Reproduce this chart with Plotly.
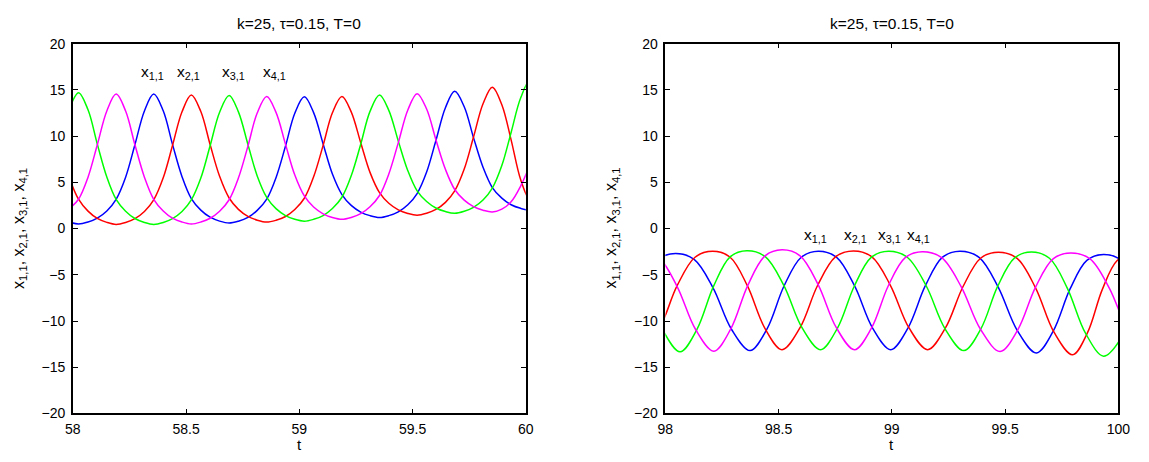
import plotly.graph_objects as go

# ---------------- data: left panel (t = 58 .. 60) ----------------
t_left = [57.942, 57.983, 58.025, 58.067, 58.108, 58.150, 58.191, 58.233, 58.274, 58.316,
          58.357, 58.399, 58.440, 58.482, 58.523, 58.565, 58.606, 58.648, 58.690, 58.731,
          58.773, 58.814, 58.856, 58.897, 58.939, 58.980, 59.022, 59.063, 59.105, 59.146,
          59.188, 59.229, 59.271, 59.312, 59.354, 59.395, 59.437, 59.479, 59.520, 59.562,
          59.603, 59.645, 59.686, 59.728, 59.769, 59.811, 59.852, 59.894, 59.935, 59.977,
          60.018, 60.060]

x11_left = [1.14, 0.71, 0.50, 0.71, 1.13, 1.91, 3.17, 5.56, 9.07, 12.72,
            14.55, 12.74, 9.11, 5.62, 3.25, 2.00, 1.23, 0.81, 0.60, 0.80,
            1.21, 1.97, 3.19, 5.51, 8.93, 12.48, 14.25, 12.55, 9.16, 5.90,
            3.68, 2.51, 1.79, 1.40, 1.20, 1.40, 1.81, 2.57, 3.79, 6.11,
            9.53, 13.08, 14.85, 13.18, 9.84, 6.63, 4.44, 3.29, 2.58, 2.19,
            2.00, 2.20]
x21_left = [9.20, 5.62, 3.18, 1.89, 1.10, 0.67, 0.45, 0.66, 1.08, 1.85,
            3.11, 5.49, 8.99, 12.63, 14.45, 12.66, 9.09, 5.65, 3.31, 2.08,
            1.32, 0.91, 0.70, 0.90, 1.31, 2.06, 3.28, 5.60, 9.00, 12.53,
            14.30, 12.63, 9.29, 6.08, 3.89, 2.74, 2.03, 1.64, 1.45, 1.66,
            2.07, 2.84, 4.08, 6.44, 9.90, 13.50, 15.30, 13.40, 9.60, 5.30,
            3.00, 2.30]
x31_left = [9.14, 12.85, 14.70, 12.85, 9.14, 5.58, 3.16, 1.88, 1.09, 0.66,
            0.45, 0.66, 1.08, 1.85, 3.10, 5.47, 8.96, 12.59, 14.40, 12.63,
            9.10, 5.70, 3.38, 2.16, 1.41, 1.00, 0.80, 1.00, 1.41, 2.17,
            3.39, 5.71, 9.13, 12.68, 14.45, 12.79, 9.46, 6.26, 4.08, 2.93,
            2.23, 1.84, 1.65, 1.87, 2.30, 3.09, 4.38, 6.82, 10.40, 14.13,
            16.00, 14.15]
x41_left = [1.13, 2.10, 3.17, 5.56, 9.07, 12.72, 14.55, 12.72, 9.07, 5.56,
            3.17, 1.91, 1.13, 0.71, 0.50, 0.71, 1.12, 1.88, 3.12, 5.47,
            8.92, 12.51, 14.30, 12.57, 9.11, 5.79, 3.53, 2.33, 1.60, 1.20,
            1.00, 1.20, 1.61, 2.36, 3.58, 5.90, 9.30, 12.83, 14.60, 12.94,
            9.61, 6.41, 4.23, 3.08, 2.38, 1.99, 1.80, 2.10, 2.90, 4.60,
            6.90, 9.80]

# ---------------- data: right panel (t = 98 .. 100) ----------------
t11_right = [97.890, 97.968, 98.045, 98.127, 98.210, 98.292, 98.374, 98.449, 98.524, 98.600,
             98.675, 98.755, 98.835, 98.915, 98.995, 99.071, 99.148, 99.224, 99.300, 99.385,
             99.469, 99.554, 99.638, 99.712, 99.787, 99.861, 99.935, 100.014, 100.093]
x11_right = [-6.34, -3.32, -2.70, -3.33, -6.38, -10.89, -13.20, -10.84, -6.21, -3.10,
             -2.45, -3.09, -6.18, -10.76, -13.10, -10.76, -6.18, -3.09, -2.45, -3.11,
             -6.30, -11.03, -13.45, -11.11, -6.53, -3.44, -2.80, -3.45, -6.58]

t21_right = [97.895, 97.974, 98.052, 98.131, 98.209, 98.286, 98.362, 98.439, 98.515, 98.594,
             98.672, 98.751, 98.830, 98.912, 98.994, 99.076, 99.158, 99.236, 99.315, 99.393,
             99.471, 99.553, 99.635, 99.716, 99.798, 99.864, 99.929, 99.995, 100.060]
x21_right = [-13.10, -10.76, -6.18, -3.10, -2.46, -3.10, -6.18, -10.76, -13.10, -10.75,
             -6.16, -3.06, -2.42, -3.06, -6.16, -10.75, -13.10, -10.78, -6.24, -3.18,
             -2.55, -3.22, -6.44, -11.21, -13.65, -11.26, -6.60, -3.45, -2.80]

t31_right = [97.833, 97.910, 97.988, 98.065, 98.139, 98.213, 98.286, 98.360, 98.441, 98.523,
             98.604, 98.685, 98.760, 98.835, 98.910, 98.985, 99.068, 99.152, 99.235, 99.318,
             99.393, 99.467, 99.542, 99.616, 99.696, 99.775, 99.855, 99.935, 100.011, 100.088]
x31_right = [-3.15, -6.29, -10.95, -13.33, -10.93, -6.23, -3.06, -2.40, -3.04, -6.15,
             -10.75, -13.10, -10.76, -6.18, -3.09, -2.45, -3.10, -6.21, -10.84, -13.20,
             -10.85, -6.26, -3.17, -2.53, -3.21, -6.47, -11.32, -13.80, -11.90, -6.65]

t41_right = [97.890, 97.971, 98.052, 98.133, 98.214, 98.289, 98.364, 98.440, 98.515, 98.595,
             98.675, 98.755, 98.835, 98.910, 98.984, 99.059, 99.134, 99.220, 99.306, 99.392,
             99.478, 99.556, 99.634, 99.712, 99.790, 99.875, 99.960, 100.045, 100.130]
x41_right = [-2.50, -3.15, -6.27, -10.89, -13.26, -10.85, -6.14, -2.96, -2.30, -2.95,
             -6.08, -10.72, -13.10, -10.77, -6.21, -3.14, -2.50, -3.15, -6.28, -10.92,
             -13.30, -10.95, -6.36, -3.27, -2.63, -3.28, -6.43, -11.11, -13.50]

# ---------------- labels / ticks ----------------
title_text = "k=25, \u03c4=0.15, T=0"
series_labels = ["x<sub>1,1</sub>", "x<sub>2,1</sub>", "x<sub>3,1</sub>", "x<sub>4,1</sub>"]
label_x_left = [58.29, 58.45, 58.65, 58.83]
label_y_left = 16.9
label_x_right = [98.605, 98.78, 98.93, 99.06]
label_y_right = -0.7
ylabel_text = "x<sub>1,1</sub>, x<sub>2,1</sub>, x<sub>3,1</sub>, x<sub>4,1</sub>"
xticks_left = [58, 58.5, 59, 59.5, 60]
xticks_right = [98, 98.5, 99, 99.5, 100]
yticks = [-20, -15, -10, -5, 0, 5, 10, 15, 20]

colors = ["#0000ff", "#ff0000", "#00ff00", "#ff00ff"]
FONT = "Liberation Sans, Arial, Helvetica, sans-serif"

fig = go.Figure()
left_series = [x11_left, x21_left, x31_left, x41_left]
for ys, c in zip(left_series, colors):
    fig.add_trace(go.Scatter(x=t_left, y=ys, mode="lines", xaxis="x", yaxis="y",
                             line=dict(color=c, width=1.5, shape="spline"),
                             showlegend=False, hoverinfo="skip"))
right_series = [(t11_right, x11_right), (t21_right, x21_right),
                (t31_right, x31_right), (t41_right, x41_right)]
for (ts, ys), c in zip(right_series, colors):
    fig.add_trace(go.Scatter(x=ts, y=ys, mode="lines", xaxis="x2", yaxis="y2",
                             line=dict(color=c, width=1.5, shape="spline"),
                             showlegend=False, hoverinfo="skip"))

W, H = 1149, 462
dom_left = [66 / W, 527 / W]
dom_right = [669 / W, 1130 / W]
dom_y = [(H - 420) / H, (H - 37) / H]

axis_common = dict(showline=True, linecolor="black", linewidth=1.5, mirror="ticks",
                   ticks="inside", ticklen=5, tickwidth=1, tickcolor="black",
                   showgrid=False, zeroline=False,
                   tickfont=dict(family=FONT, size=14, color="black"))

fig.update_layout(
    width=W, height=H,
    margin=dict(l=0, r=0, t=0, b=0),
    paper_bgcolor="white", plot_bgcolor="white",
    xaxis=dict(domain=dom_left, range=[58, 60], tickvals=xticks_left,
               ticktext=[str(v) for v in xticks_left], anchor="y",
               ticklabelstandoff=2, **axis_common),
    yaxis=dict(domain=dom_y, range=[-20, 20], tickvals=yticks, anchor="x",
               ticklabelstandoff=3, **axis_common),
    xaxis2=dict(domain=dom_right, range=[98, 100], tickvals=xticks_right,
                ticktext=[str(v) for v in xticks_right], anchor="y2",
                ticklabelstandoff=2, **axis_common),
    yaxis2=dict(domain=dom_y, range=[-20, 20], tickvals=yticks, anchor="x2",
                ticklabelstandoff=3, **axis_common),
)

ann = []
for dom in (dom_left, dom_right):
    cx = (dom[0] + dom[1]) / 2
    ann.append(dict(text=title_text, xref="paper", yref="paper", x=cx, y=(H - 16) / H,
                    xanchor="center", yanchor="middle", showarrow=False,
                    font=dict(family=FONT, size=15.5, color="black")))
    ann.append(dict(text="t", xref="paper", yref="paper", x=cx, y=(H - 452.5) / H,
                    xanchor="center", yanchor="middle", showarrow=False,
                    font=dict(family=FONT, size=15, color="black")))
    ann.append(dict(text=ylabel_text, xref="paper", yref="paper", x=(dom[0] * W - 55) / W,
                    y=(H - 228) / H, xanchor="center", yanchor="middle", textangle=-90,
                    showarrow=False, font=dict(family=FONT, size=16, color="black")))
for lab, lx in zip(series_labels, label_x_left):
    ann.append(dict(text=lab, xref="x", yref="y", x=lx, y=label_y_left, xanchor="left",
                    yanchor="middle", showarrow=False,
                    font=dict(family=FONT, size=15.5, color="black")))
for lab, lx in zip(series_labels, label_x_right):
    ann.append(dict(text=lab, xref="x2", yref="y2", x=lx, y=label_y_right, xanchor="left",
                    yanchor="middle", showarrow=False,
                    font=dict(family=FONT, size=15.5, color="black")))
fig.update_layout(annotations=ann)

fig.write_html("out.html")
